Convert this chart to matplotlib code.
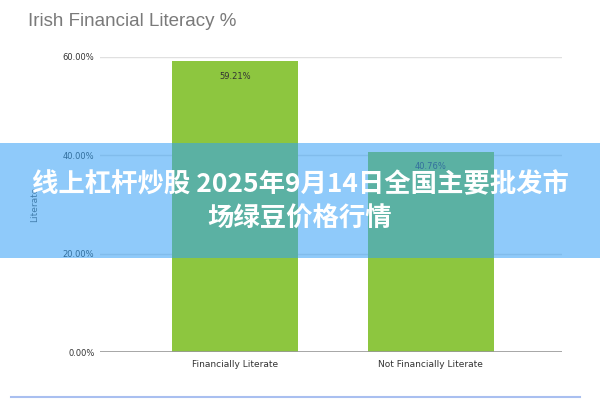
import matplotlib
matplotlib.use("Agg")
import matplotlib.pyplot as plt
from matplotlib.patches import Rectangle

categories = ['Financially Literate', 'Not Financially Literate']
values = [59.21, 40.76]
yticks = [0, 20, 40, 60]
title = 'Irish Financial Literacy %'
banner_lines = ['线上杠杆炒股 2025年9月14日全国主要批发市', '场绿豆价格行情']

fig = plt.figure(figsize=(6, 4), dpi=100)
ax = fig.add_axes([0.1667, 0.12, 0.77, 0.7375])

bar_color = '#8dc63f'
ax.bar(range(len(categories)), values, width=0.645, color=bar_color, zorder=2)
for i, v in enumerate(values):
    ax.text(i, v - 2.2, f'{v:.2f}%', ha='center', va='top', fontsize=6, color='#333333', zorder=3)

ax.set_xlim(-0.69, 1.67)
ax.set_ylim(0, 60)
ax.set_yticks(yticks)
ax.set_yticklabels([f'{t:.2f}%' for t in yticks], fontsize=6, color='#333333')
ax.set_xticks(range(len(categories)))
ax.set_xticklabels(categories, fontsize=6.5, color='#333333')
ax.tick_params(length=0, pad=6)
ax.tick_params(axis='y', pad=4)
for s in ax.spines.values():
    s.set_visible(False)
ax.grid(axis='y', color='#e0e0e0', linewidth=1, zorder=0)
ax.axhline(0, color='#999999', linewidth=1.2, zorder=3)
ax.set_ylabel('Literate', fontsize=6.5, color='#555555', labelpad=17)

fig.text(28 / 600, 1 - 22 / 400, title, fontsize=13.5, color='#7a7a7a', va='center', ha='left',
         family='Liberation Sans')

# translucent banner overlay
fig.patches.append(Rectangle((0, 1 - 258 / 400), 1, 115 / 400, transform=fig.transFigure,
                             facecolor='#33a0f6', alpha=0.55, edgecolor='none', zorder=5))
fig.text(0.5, 1 - 185 / 400, banner_lines[0], fontsize=19, color='white', fontweight='bold',
         ha='center', va='center', family=['Noto Sans CJK SC', 'DejaVu Sans'], zorder=6)
fig.text(0.5, 1 - 219 / 400, banner_lines[1], fontsize=19, color='white', fontweight='bold',
         ha='center', va='center', family=['Noto Sans CJK SC', 'DejaVu Sans'], zorder=6)

# thin strip at the bottom
fig.add_artist(plt.Line2D([11 / 600, 580 / 600], [1 - 397 / 400] * 2, transform=fig.transFigure,
                          color='#a9bff0', linewidth=1.5))

fig.savefig('out.png', dpi=100)
